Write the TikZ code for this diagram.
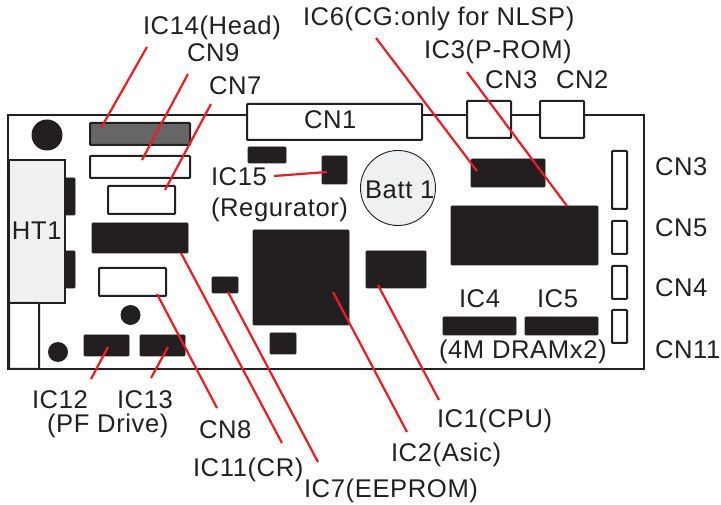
\documentclass[tikz,border=0pt]{standalone}
\usepackage{fontspec}
\setmainfont[LetterSpace=2.4]{Liberation Sans}
\definecolor{ink}{HTML}{231F20}
\definecolor{leader}{HTML}{ED1C24}
\definecolor{pale}{HTML}{EEF0F2}
\definecolor{headgray}{HTML}{666666}
\tikzset{
  part/.style={rectangle,inner sep=0pt,outer sep=0pt,rounded corners=0.8pt},
  chip/.style={part,fill=ink,draw=ink,line width=0.6pt},
  socket/.style={part,fill=white,draw=ink,line width=2pt},
  headchip/.style={part,fill=headgray,draw=ink,line width=2pt},
  palebox/.style={part,fill=pale,draw=ink,line width=2pt,rounded corners=0pt},
  hole/.style={circle,fill=ink,inner sep=0pt,outer sep=0pt},
  leaderline/.style={draw=leader,line width=2.2pt},
  lab/.style={anchor=base west,inner sep=0pt,outer sep=0pt,text=ink,font=\fontsize{25.6}{30}\selectfont}
}
\newcommand{\partbox}[6]{\node[#1,minimum width={#5-#3},minimum height={#6-#4}] (#2) at ({(#3+#5)/2},{(#4+#6)/2}) {};}
\begin{document}
\begin{tikzpicture}[x=1pt,y=-1pt]
\useasboundingbox (0,0) rectangle (721,505);
% board
\node[part,rounded corners=0pt,draw=ink,line width=2.4pt,fill=white,minimum width=636,minimum height=254] (board) at (326,242) {};
% left side
\partbox{chip}{tabtop}{64}{178}{75}{215}
\partbox{chip}{tabbot}{64}{251}{75}{288}
\partbox{palebox}{ht}{9}{160}{65}{303}
\partbox{socket}{lowbox}{9}{303}{39}{369}
\node[hole,minimum size=31] (h1) at (47,135) {};
\node[hole,minimum size=20] (h2) at (130.500,315) {};
\node[hole,minimum size=20] (h3) at (58,352) {};
% left column
\partbox{headchip}{ic14}{90}{123}{190}{145}
\partbox{socket}{cn9}{90}{156}{190}{178}
\partbox{socket}{cn7}{108}{186}{175}{214}
\partbox{chip}{ic10}{92}{223}{188}{253}
\partbox{socket}{cn8}{99}{268}{166}{296}
\partbox{chip}{ic12}{84}{335}{129}{356}
\partbox{chip}{ic13}{140}{335}{185}{356}
\partbox{chip}{ic7}{212}{277}{238}{293}
% centre
\partbox{socket}{cn1}{247}{104}{422}{140}
\partbox{chip}{ica}{248}{147}{286}{163}
\partbox{chip}{ic15}{322}{156}{347}{184}
\node[circle,draw=ink,fill=pale,line width=0.9pt,minimum size=75,inner sep=0pt,outer sep=0pt] (batt) at (398,188) {};
\partbox{chip}{ic2}{253}{230}{349}{325}
\partbox{chip}{icb}{270}{333}{296}{354}
\partbox{chip}{ic1}{366}{251}{426}{288}
% right
\partbox{chip}{ic6}{471}{159}{545}{187}
\partbox{chip}{ic3}{451}{206}{598}{265}
\partbox{chip}{ic4}{443}{317}{516}{335}
\partbox{chip}{ic5}{525}{317}{598}{335}
\partbox{socket}{cnt3}{467}{101}{511}{138}
\partbox{socket}{cnt2}{540}{101}{584}{138}
\partbox{socket}{cnr3}{612}{151}{627}{209}
\partbox{socket}{cnr5}{612}{221}{627}{254}
\partbox{socket}{cnr4}{612}{266}{627}{299}
\partbox{socket}{cnr11}{612}{310}{627}{343}
% labels
\node[lab] (t14) at (143,35) {IC14(Head)};
\node[lab] (t9) at (187,62) {CN9};
\node[lab] (t7) at (209,95) {CN7};
\node[lab] (t1) at (304,129) {CN1};
\node[lab] (t6) at (303,26) {IC6(CG:only for NLSP)};
\node[lab] (t3) at (424,59) {IC3(P-ROM)};
\node[lab] (tt3) at (485,89) {CN3};
\node[lab] (tt2) at (556,89) {CN2};
\node[lab] (t15) at (211,186) {IC15};
\node[lab] (treg) at (211,217) {(Regurator)};
\node[lab] (tbatt) at (365,199) {Batt 1};
\node[lab] (tht) at (12,240) {HT1};
\node[lab] (tr3) at (655,176) {CN3};
\node[lab] (tr5) at (655,237) {CN5};
\node[lab] (tr4) at (655,297) {CN4};
\node[lab] (tr11) at (655,359) {CN11};
\node[lab] (t4) at (459,308) {IC4};
\node[lab] (t5) at (537,308) {IC5};
\node[lab] (tdram) at (439,359) {(4M DRAMx2)};
\node[lab] (t12) at (32,409) {IC12};
\node[lab] (t13) at (117,409) {IC13};
\node[lab] (tpf) at (47,432) {(PF Drive)};
\node[lab] (t8) at (199,438) {CN8};
\node[lab] (t11) at (193,476) {IC11(CR)};
\node[lab] (t7e) at (304,497) {IC7(EEPROM)};
\node[lab] (t2) at (391,461) {IC2(Asic)};
\node[lab] (t1c) at (437,428) {IC1(CPU)};
% leader ends
\coordinate (a14) at (147,47); \coordinate (b14) at (101,128);
\coordinate (a9) at (188,74); \coordinate (b9) at (142,160);
\coordinate (a7) at (211,104); \coordinate (b7) at (165,190);
\coordinate (a15) at (274,176); \coordinate (b15) at (327,172);
\coordinate (a6) at (376,38); \coordinate (b6) at (477,171);
\coordinate (a3) at (467,72); \coordinate (b3) at (567,206);
\coordinate (a2) at (407,432); \coordinate (b2) at (333,292);
\coordinate (a1) at (439,400); \coordinate (b1) at (378,285);
\coordinate (a11) at (282,443); \coordinate (b11) at (181,253);
\coordinate (a7e) at (318,462); \coordinate (b7e) at (228,292);
\coordinate (a8) at (217,408); \coordinate (b8) at (157,294);
\coordinate (a12) at (91,379); \coordinate (b12) at (108,347);
\coordinate (a13) at (151,378); \coordinate (b13) at (168,347);
\foreach \e in {14,9,7,15,6,3,2,1,11,7e,8,12,13}{\draw[leaderline] (a\e) -- (b\e);}
\end{tikzpicture}
\end{document}
